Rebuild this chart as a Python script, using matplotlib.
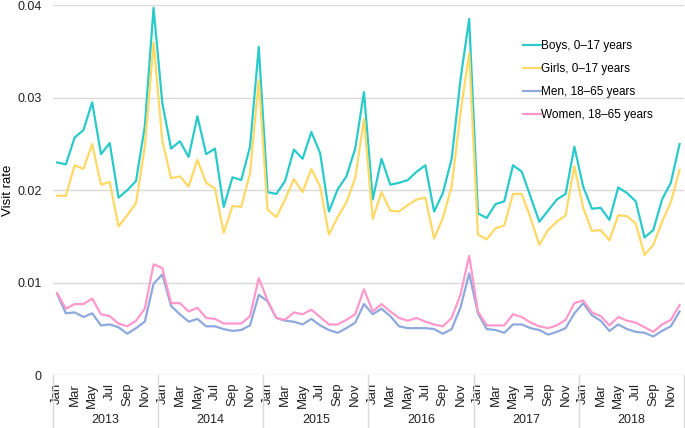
import matplotlib
matplotlib.use('Agg')
import matplotlib.pyplot as plt

plt.rcParams['font.family'] = ['Liberation Sans', 'DejaVu Sans']

years = ['2013', '2014', '2015', '2016', '2017', '2018']
month_names = ['Jan', 'Feb', 'Mar', 'Apr', 'May', 'Jun',
               'Jul', 'Aug', 'Sep', 'Oct', 'Nov', 'Dec']

boys = [
    0.0230, 0.0228, 0.0257, 0.0265, 0.0295, 0.0239, 0.0251, 0.0192, 0.0200, 0.0210, 0.0269, 0.0397,
    0.0294, 0.0245, 0.0253, 0.0236, 0.0280, 0.0239, 0.0245, 0.0182, 0.0214, 0.0211, 0.0247, 0.0355,
    0.0198, 0.0196, 0.0210, 0.0244, 0.0234, 0.0263, 0.0240, 0.0177, 0.0201, 0.0215, 0.0245, 0.0306,
    0.0190, 0.0234, 0.0206, 0.0208, 0.0211, 0.0220, 0.0227, 0.0177, 0.0197, 0.0234, 0.0319, 0.0385,
    0.0175, 0.0170, 0.0185, 0.0188, 0.0227, 0.0220, 0.0193, 0.0166, 0.0178, 0.0190, 0.0196, 0.0247,
    0.0204, 0.0180, 0.0181, 0.0168, 0.0203, 0.0197, 0.0188, 0.0149, 0.0157, 0.0190, 0.0208, 0.0250,
]
girls = [
    0.0194, 0.0194, 0.0227, 0.0223, 0.0250, 0.0206, 0.0209, 0.0161, 0.0173, 0.0186, 0.0247, 0.0360,
    0.0253, 0.0213, 0.0215, 0.0204, 0.0233, 0.0208, 0.0202, 0.0154, 0.0183, 0.0182, 0.0218, 0.0319,
    0.0179, 0.0171, 0.0190, 0.0212, 0.0198, 0.0223, 0.0204, 0.0152, 0.0171, 0.0187, 0.0213, 0.0277,
    0.0169, 0.0198, 0.0178, 0.0177, 0.0184, 0.0190, 0.0192, 0.0148, 0.0170, 0.0204, 0.0283, 0.0348,
    0.0152, 0.0147, 0.0159, 0.0162, 0.0196, 0.0196, 0.0170, 0.0141, 0.0157, 0.0166, 0.0173, 0.0226,
    0.0181, 0.0156, 0.0157, 0.0146, 0.0173, 0.0172, 0.0164, 0.0130, 0.0141, 0.0166, 0.0187, 0.0222,
]
men = [
    0.0088, 0.0067, 0.0068, 0.0063, 0.0067, 0.0054, 0.0055, 0.0052, 0.0045, 0.0051, 0.0058, 0.0099,
    0.0109, 0.0075, 0.0066, 0.0058, 0.0061, 0.0053, 0.0053, 0.0050, 0.0048, 0.0049, 0.0054, 0.0087,
    0.0080, 0.0062, 0.0059, 0.0058, 0.0055, 0.0061, 0.0054, 0.0049, 0.0046, 0.0051, 0.0057, 0.0077,
    0.0066, 0.0072, 0.0064, 0.0053, 0.0051, 0.0051, 0.0051, 0.0050, 0.0045, 0.0050, 0.0073, 0.0110,
    0.0067, 0.0050, 0.0049, 0.0046, 0.0055, 0.0055, 0.0051, 0.0049, 0.0044, 0.0047, 0.0051, 0.0067,
    0.0078, 0.0065, 0.0059, 0.0048, 0.0055, 0.0050, 0.0047, 0.0046, 0.0042, 0.0048, 0.0053, 0.0069,
]
women = [
    0.0089, 0.0072, 0.0077, 0.0077, 0.0083, 0.0066, 0.0064, 0.0056, 0.0053, 0.0059, 0.0072, 0.0120,
    0.0116, 0.0078, 0.0078, 0.0069, 0.0073, 0.0062, 0.0061, 0.0056, 0.0056, 0.0056, 0.0064, 0.0105,
    0.0081, 0.0062, 0.0060, 0.0068, 0.0066, 0.0071, 0.0063, 0.0055, 0.0055, 0.0060, 0.0066, 0.0093,
    0.0069, 0.0077, 0.0069, 0.0062, 0.0059, 0.0062, 0.0058, 0.0055, 0.0053, 0.0062, 0.0087, 0.0129,
    0.0069, 0.0054, 0.0054, 0.0054, 0.0066, 0.0063, 0.0057, 0.0053, 0.0051, 0.0054, 0.0060, 0.0078,
    0.0081, 0.0068, 0.0064, 0.0054, 0.0063, 0.0059, 0.0057, 0.0052, 0.0047, 0.0055, 0.0060, 0.0076,
]

series = [
    ('Boys, 0\u201317 years', boys, '#2ACACA'),
    ('Girls, 0\u201317 years', girls, '#FFD966'),
    ('Men, 18\u201365 years', men, '#8EA9DB'),
    ('Women, 18\u201365 years', women, '#FF99CC'),
]

fig = plt.figure(figsize=(6.85, 4.28), dpi=100)
ax = fig.add_axes([0.077, 0.123, 0.9215, 0.865])

x = list(range(len(boys)))
for label, vals, col in series:
    ax.plot(x, vals, color=col, lw=1.6, label=label)

grid_c = '#D9D9D9'
ax.set_ylim(0, 0.04)
ax.set_xlim(-0.5, len(boys) - 0.5)
ax.set_yticks([0, 0.01, 0.02, 0.03, 0.04])
ax.set_yticklabels(['0', '0.01', '0.02', '0.03', '0.04'])
ax.yaxis.grid(True, color=grid_c, lw=1)
ax.set_axisbelow(True)
for s in ax.spines.values():
    s.set_visible(False)
ax.tick_params(axis='y', length=0, pad=8, labelsize=9, labelcolor='#222222')
ax.set_ylabel('Visit rate', fontsize=9.5)
ax.yaxis.set_label_coords(-0.061, 0.5)

# month ticks (every other month)
ticks = [i for i in x if i % 2 == 0]
ax.set_xticks(ticks)
ax.set_xticklabels([month_names[i % 12] for i in ticks], rotation=90)
ax.tick_params(axis='x', length=0, pad=5.5, labelsize=9.5, labelcolor='#222222')

# year boxes below the axis
trans = ax.get_xaxis_transform()
for k in range(len(years) + 1):
    ax.plot([-0.5 + 12 * k] * 2, [0, -0.15], transform=trans, color=grid_c,
            lw=1, clip_on=False)
for k, yr in enumerate(years):
    ax.text(5.5 + 12 * k, -0.12, yr, transform=trans, ha='center', va='center',
            fontsize=9, color='#222222')

ax.legend(loc='upper left', bbox_to_anchor=(0.728, 0.935), frameon=False,
          fontsize=8.5, handlelength=1.5, handletextpad=0.05, labelspacing=0.95)

fig.savefig('out.png', dpi=100)
